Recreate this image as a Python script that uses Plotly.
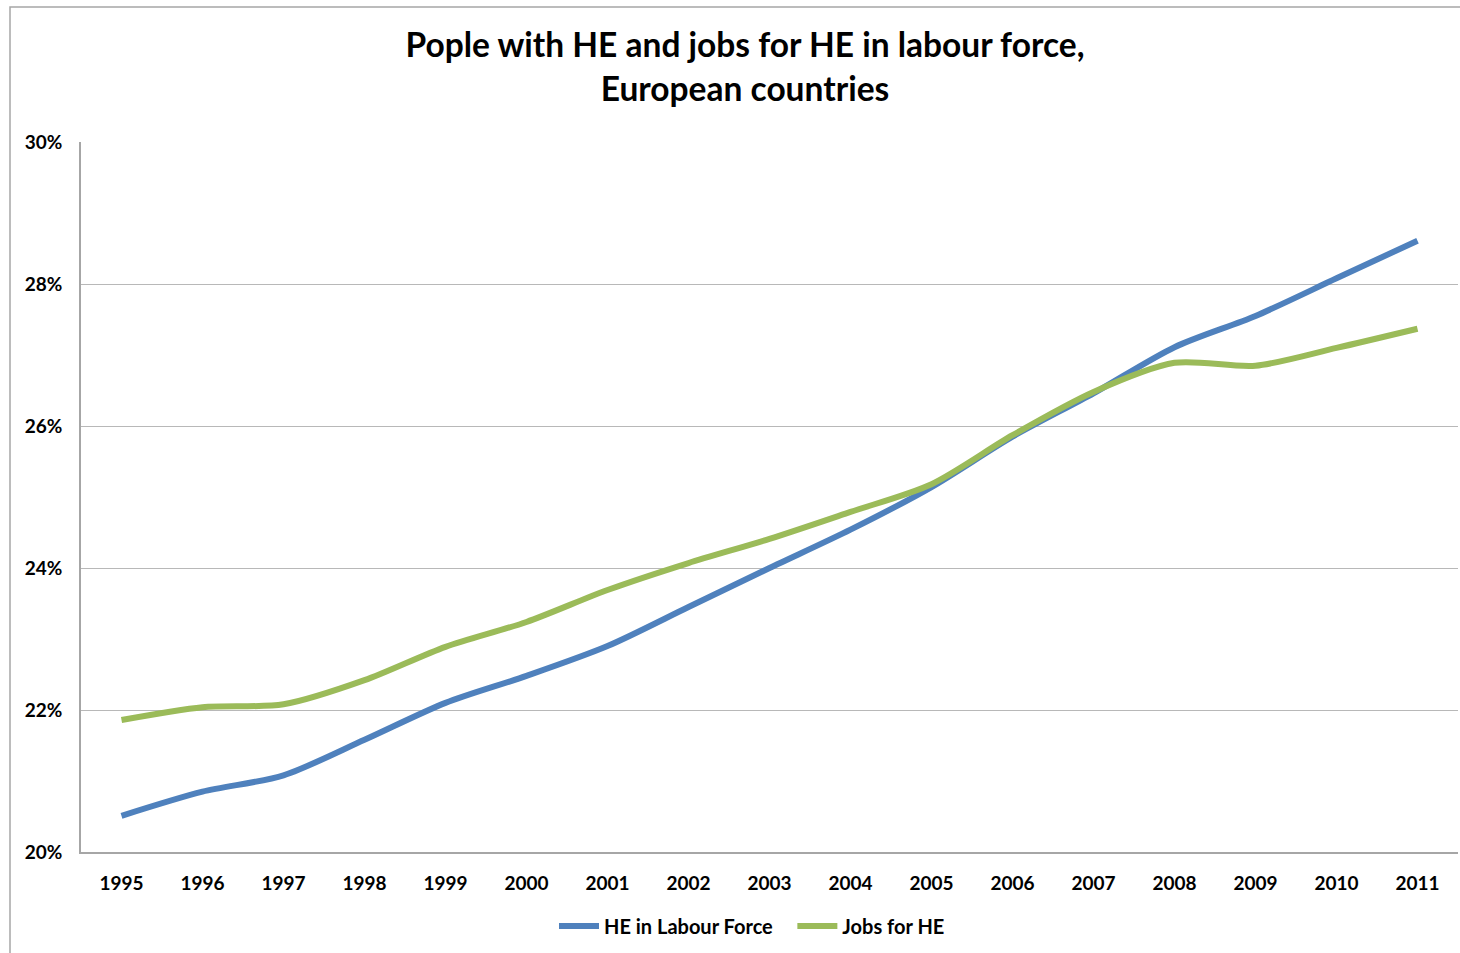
import plotly.graph_objects as go

years = [str(y) for y in range(1995, 2012)]
he_labour_force = [20.51, 20.85, 21.08, 21.58, 22.10, 22.48, 22.90, 23.45, 24.00,
                   24.54, 25.14, 25.85, 26.46, 27.11, 27.55, 28.08, 28.61]
jobs_for_he = [21.86, 22.04, 22.08, 22.42, 22.89, 23.24, 23.69, 24.07, 24.41,
               24.79, 25.18, 25.87, 26.48, 26.89, 26.85, 27.10, 27.37]

FONT = "Lato"
W, H = 1460, 953
L, R, T, B = 81, 2, 142, 101
pw, ph = W - L - R, H - T - B

fig = go.Figure()
fig.add_trace(go.Scatter(
    x=years, y=he_labour_force, name="HE in Labour Force&nbsp;&nbsp;&nbsp;", mode="lines",
    line=dict(color="#4F81BD", width=6, shape="spline", smoothing=0.8),
))
fig.add_trace(go.Scatter(
    x=years, y=jobs_for_he, name="Jobs for HE", mode="lines",
    line=dict(color="#9BBB59", width=6, shape="spline", smoothing=0.8),
))

# outer chart frame
fig.add_shape(
    type="rect", xref="paper", yref="paper", layer="below",
    x0=(10 - L) / pw, x1=(W + 20 - L) / pw,
    y0=-(H + 20 - (T + ph)) / ph, y1=1 + (T - 7) / ph,
    line=dict(color="#A6A6A6", width=1.5), fillcolor="rgba(0,0,0,0)",
)

fig.update_layout(
    width=W, height=H,
    margin=dict(l=L, r=R, t=T, b=B),
    paper_bgcolor="white", plot_bgcolor="white",
    font=dict(family=FONT, color="#000000"),
    title=dict(
        text="<b>Pople with HE and jobs for HE in labour force,<br>European countries</b>",
        x=745 / W, xref="container", xanchor="center",
        y=1 - 57 / H, yref="container", yanchor="middle",
        font=dict(family=FONT, size=33.5, color="#000000"),
    ),
    showlegend=True,
    legend=dict(
        orientation="h", x=(752 - L) / pw, xanchor="center",
        y=-(926 - (T + ph)) / ph, yanchor="middle",
        font=dict(family=FONT, size=20, color="#000000", weight="bold"),
        itemwidth=40, tracegroupgap=0,
    ),
)

fig.update_xaxes(
    type="category", range=[-0.5, 16.5],
    showline=True, linecolor="#A6A6A6", linewidth=1.5,
    showgrid=False, ticks="", ticklabelstandoff=13,
    tickfont=dict(family=FONT, size=19, color="#000000", weight="bold"),
)
fig.update_yaxes(
    range=[20, 30], dtick=2, ticksuffix="%",
    showline=True, linecolor="#A6A6A6", linewidth=1.5,
    showgrid=True, gridcolor="#B8B8B8", gridwidth=1.2,
    zeroline=False, ticks="", ticklabelstandoff=13,
    tickfont=dict(family=FONT, size=19, color="#000000", weight="bold"),
)

fig.write_html("out.html")
